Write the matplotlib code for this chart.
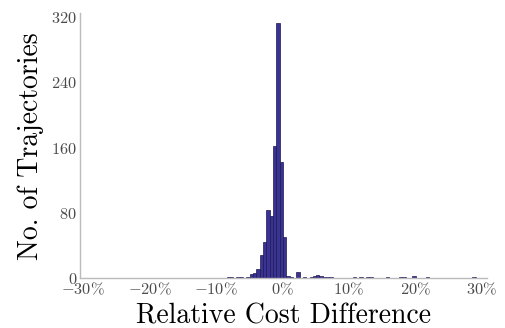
import matplotlib
matplotlib.use("Agg")
import matplotlib.pyplot as plt

plt.rcParams["mathtext.fontset"] = "cm"

# Histogram of relative cost differences (in %), bin width 0.5 %
bin_left = [-8.4, -7.9, -6.9, -6.4, -5.4, -4.9, -4.4, -3.9, -3.4, -2.9, -2.4, -1.9, -1.4,
            -0.9, -0.4, 0.1, 0.6, 1.1, 2.1, 3.1, 4.1, 4.6, 5.1, 5.6, 6.1, 6.6, 7.1,
            10.6, 11.6, 12.6, 13.1, 15.6, 17.6, 18.1, 19.6, 21.6, 28.6]
counts = [1, 2, 1, 2, 2, 5, 6, 11, 28, 44, 83, 76, 162,
          313, 142, 51, 3, 2, 8, 2, 1, 3, 4, 3, 2, 1, 1,
          2, 1, 2, 1, 1, 2, 1, 3, 1, 1]
bin_width = 0.5

x_ticks = [-30, -20, -10, 0, 10, 20, 30]
x_tick_labels = [r"$-30\%$", r"$-20\%$", r"$-10\%$", r"$0\%$", r"$10\%$", r"$20\%$", r"$30\%$"]
y_ticks = [0, 80, 160, 240, 320]
y_tick_labels = [r"$0$", r"$80$", r"$160$", r"$240$", r"$320$"]

fig = plt.figure(figsize=(5.05, 3.28), dpi=100)
ax = fig.add_axes([0.158, 0.152, 0.806, 0.808])

ax.bar(bin_left, counts, width=bin_width, align="edge",
       color="#3a3394", edgecolor="#1c1850", linewidth=0.5)

ax.set_xlim(-30.5, 30.8)
ax.set_ylim(0, 325)
ax.set_xticks(x_ticks)
ax.set_xticklabels(x_tick_labels)
ax.set_yticks(y_ticks)
ax.set_yticklabels(y_tick_labels)
ax.tick_params(axis="both", length=0, labelsize=11.8, labelcolor="#4a4a4a", pad=2)

for side in ("top", "right"):
    ax.spines[side].set_visible(False)
for side in ("left", "bottom"):
    ax.spines[side].set_color("#bbbbbb")
    ax.spines[side].set_linewidth(1.0)

ax.set_xlabel("Relative Cost Difference", fontfamily="cmr10", fontsize=20, labelpad=4)
ax.set_ylabel("No. of Trajectories", fontfamily="cmr10", fontsize=20, labelpad=5)

fig.savefig("out.png", dpi=100, facecolor="white")
